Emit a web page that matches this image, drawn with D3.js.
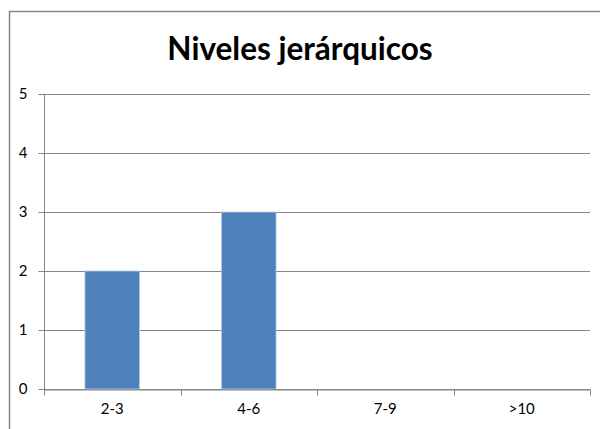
<!DOCTYPE html>
<html>
<head>
<meta charset="utf-8">
<script src="https://cdn.jsdelivr.net/npm/d3@7"></script>
<style>
  html, body { margin: 0; padding: 0; background: #fff; }
  svg { display: block; }
</style>
</head>
<body>
<svg id="chart" width="600" height="429"></svg>
<script>
// Chart data
const categories = ["2-3", "4-6", "7-9", ">10"];
const values = [2, 3, 0, 0];
const yTicks = [0, 1, 2, 3, 4, 5];
const title = "Niveles jerárquicos";

const svg = d3.select("#chart");
const W = 600, H = 429;
const margin = { top: 94, right: 10, bottom: 40, left: 44 };
const plotW = W - margin.left - margin.right;
const plotH = H - margin.top - margin.bottom;
const font = "Lato, 'Open Sans', sans-serif";

// Chart area frame
svg.append("rect")
  .attr("x", 9.5).attr("y", 11.5)
  .attr("width", 620).attr("height", 440)
  .attr("fill", "#fff")
  .attr("stroke", "#878787").attr("stroke-width", 1.5);

svg.append("text")
  .attr("x", 300).attr("y", 60)
  .attr("text-anchor", "middle")
  .attr("font-family", font)
  .attr("font-weight", "bold")
  .attr("font-size", 31.5)
  .attr("fill", "#000")
  .text(title);

const xBand = d3.scaleBand().domain(categories).range([0, plotW]);
const y = d3.scaleLinear().domain([0, 5]).range([plotH, 0]);

const g = svg.append("g").attr("transform", `translate(${margin.left},${margin.top})`);

// Horizontal gridlines
g.selectAll("line.grid").data(yTicks).join("line")
  .attr("class", "grid")
  .attr("x1", 0).attr("x2", plotW)
  .attr("y1", d => Math.round(y(d)) + 0.5).attr("y2", d => Math.round(y(d)) + 0.5)
  .attr("stroke", "#868686").attr("stroke-width", 1);

// Bars, 40% of each category band
g.selectAll("rect.bar").data(categories.map((c, i) => ({ c, v: values[i] })).filter(d => d.v > 0)).join("rect")
  .attr("class", "bar")
  .attr("x", d => xBand(d.c) + xBand.bandwidth() * 0.3)
  .attr("width", xBand.bandwidth() * 0.4)
  .attr("y", d => y(d.v))
  .attr("height", d => y(0) - y(d.v))
  .attr("fill", "#4F81BD")
  .attr("stroke", "#b9cde5").attr("stroke-width", 0.8);

// Y axis
const yAxis = g.append("g").attr("transform", "translate(0.5,0)")
  .call(d3.axisLeft(y).tickValues(yTicks).tickSize(6).tickPadding(11).tickFormat(d3.format("d")));
yAxis.select(".domain").attr("stroke", "#868686").attr("d", `M0,${y(5)}V${plotH}`);
yAxis.selectAll(".tick line").attr("stroke", "#868686");
yAxis.selectAll(".tick text").attr("font-family", font).attr("font-size", 15).attr("fill", "#000");

// X axis with ticks at category boundaries
const xAxis = g.append("g").attr("transform", `translate(0,${Math.round(plotH) + 0.5})`)
  .call(d3.axisBottom(xBand).tickSize(0).tickPadding(14));
xAxis.select(".domain").attr("stroke", "#868686");
xAxis.selectAll(".tick text").attr("font-family", font).attr("font-size", 15).attr("fill", "#000");
const bounds = categories.map(c => xBand(c)).concat([plotW]);
xAxis.selectAll("line.bound").data(bounds).join("line")
  .attr("class", "bound")
  .attr("x1", d => Math.round(d) + 0.5).attr("x2", d => Math.round(d) + 0.5)
  .attr("y1", 0).attr("y2", 6)
  .attr("stroke", "#868686");
</script>
</body>
</html>
